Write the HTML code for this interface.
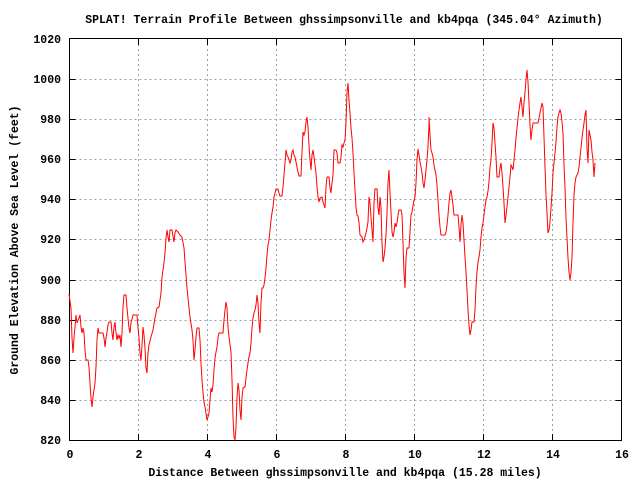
<!DOCTYPE html>
<html><head><meta charset="utf-8"><style>
html,body{margin:0;padding:0;background:#fff}
svg{display:block}
text{font-family:"Liberation Mono",monospace;font-weight:bold;font-size:11.5px;fill:#000}
</style></head><body>
<svg width="640" height="480" xmlns="http://www.w3.org/2000/svg">
<g stroke="#a0a0a0" stroke-width="1" stroke-dasharray="2,3" fill="none">
<path d="M69.5 79.5H621M69.5 119.5H621M69.5 159.5H621M69.5 199.5H621M69.5 239.5H621M69.5 280.5H621M69.5 320.5H621M69.5 360.5H621M69.5 400.5H621"/>
<path d="M138.5 39V440M207.5 39V440M276.5 39V440M345.5 39V440M414.5 39V440M483.5 39V440M552.5 39V440"/>
</g>
<g stroke="#000" stroke-width="1" fill="none">
<rect x="69.5" y="38.5" width="552" height="402"/>
<path d="M69.5 79.5h6M69.5 119.5h6M69.5 159.5h6M69.5 199.5h6M69.5 239.5h6M69.5 280.5h6M69.5 320.5h6M69.5 360.5h6M69.5 400.5h6"/>
<path d="M621.5 79.5h-6M621.5 119.5h-6M621.5 159.5h-6M621.5 199.5h-6M621.5 239.5h-6M621.5 280.5h-6M621.5 320.5h-6M621.5 360.5h-6M621.5 400.5h-6"/>
<path d="M138.5 440v-6M207.5 440v-6M276.5 440v-6M345.5 440v-6M414.5 440v-6M483.5 440v-6M552.5 440v-6"/>
<path d="M138.5 39v6M207.5 39v6M276.5 39v6M345.5 39v6M414.5 39v6M483.5 39v6M552.5 39v6"/>
</g>
<polyline fill="none" stroke="#ff0000" stroke-width="1" points="69,294 71,308 72,338 73,353 74,338 76,315 77,323 79,318 80,315 81,327 82,333 83,328 84,333 85,350 86,360 88,360 89,367 90,383 91,398 92,407 93,397 94,390 95,383 96,367 97,340 98,328 99,333 101,333 103,333 104,338 105,347 106,338 107,332 108,325 109,322 111,322 112,333 113,340 114,327 115,322 116,333 117,340 118,335 119,338 120,335 121,347 122,333 123,307 124,295 126,295 127,308 128,318 129,328 130,333 131,323 133,315 137,315 138,327 139,338 140,353 141,360 142,345 143,327 144,335 145,348 146,368 147,373 148,353 149,345 151,337 153,330 155,318 157,308 159,307 161,293 162,277 164,263 165,253 166,238 167,230 168,237 169,242 170,230 172,230 174,242 175,233 176,230 178,232 180,235 182,237 184,248 185,262 186,275 187,288 188,298 189,308 190,317 192,330 193,340 194,360 195,350 196,337 197,328 199,328 200,340 201,363 202,380 203,393 204,402 205,407 206,413 207,420 208,417 209,413 210,400 211,388 212,392 213,385 214,370 215,358 216,352 217,347 218,338 219,333 223,333 224,320 225,310 226,302 227,308 228,327 229,337 231,352 232,380 233,417 234,437 235,440 236,427 237,398 238,383 239,390 240,410 241,420 242,397 243,388 245,387 246,378 247,370 248,363 249,357 250,353 251,343 252,328 253,318 254,313 255,310 256,305 257,295 258,303 259,323 260,333 261,303 262,288 263,288 264,285 265,278 266,268 267,255 268,245 269,240 270,230 271,220 272,213 273,207 274,197 275,193 276,189 278,189 279,193 280,196 282,196 283,187 284,175 285,163 286,150 287,155 288,157 289,160 290,163 291,160 292,152 293,150 294,155 295,157 296,162 297,167 298,172 299,176 301,176 302,152 303,132 304,135 305,132 306,122 307,117 308,127 309,145 310,160 311,170 312,155 313,150 314,157 315,165 316,173 317,187 318,197 319,202 320,198 322,197 323,202 324,205 325,208 326,187 327,177 329,177 330,188 331,193 332,183 333,175 334,150 336,150 337,153 338,163 340,163 341,157 342,145 343,147 344,143 345,140 346,122 347,93 348,83 349,100 350,113 351,128 352,138 353,153 354,173 355,190 356,207 357,215 358,216 359,222 360,235 362,237 363,242 364,240 366,233 367,228 368,222 369,197 370,203 371,217 372,230 373,242 374,203 375,189 377,189 378,208 379,215 380,197 381,207 382,243 383,262 384,257 385,248 386,235 387,213 388,183 389,170 390,193 391,212 392,232 393,237 394,232 395,223 396,227 397,223 398,215 399,210 401,210 402,215 403,243 404,273 405,288 406,258 407,248 409,248 410,232 411,215 412,212 413,206 414,200 415,197 416,183 417,160 418,149 419,155 420,162 421,167 422,173 423,183 424,188 425,180 426,170 427,160 428,147 429,125 429,117 430,135 431,150 432,153 433,157 434,165 435,170 436,175 437,185 438,200 439,215 440,227 441,235 445,235 446,232 447,225 448,215 449,203 450,193 451,190 452,197 453,205 454,215 458,215 459,227 460,242 461,225 462,215 463,223 464,240 465,257 466,272 467,290 468,310 469,325 470,335 471,330 472,322 474,322 475,310 476,287 477,272 478,262 479,257 480,250 481,237 482,228 483,223 484,215 485,207 486,200 487,197 488,191 489,182 490,167 491,160 492,143 493,123 494,128 495,143 496,157 497,177 499,177 500,168 501,163 502,173 503,187 504,203 505,223 506,215 507,207 508,197 509,187 510,177 511,165 512,167 513,170 514,160 515,150 516,138 517,128 518,118 519,110 520,103 521,97 522,107 523,117 524,103 525,92 526,80 527,70 528,82 529,103 530,125 531,140 532,130 533,123 538,123 539,118 540,113 541,108 542,103 543,107 544,137 545,167 546,195 547,213 548,233 549,230 550,222 551,208 552,193 553,173 554,163 555,153 556,142 557,127 558,117 559,113 560,110 561,113 562,122 563,133 564,165 565,188 566,218 567,238 568,258 569,272 570,280 571,273 572,257 573,223 574,195 575,183 576,177 578,173 579,167 580,157 581,148 582,138 583,130 584,123 585,115 586,110 587,148 588,163 589,130 590,135 591,140 592,152 593,160 594,177 595,163"/>
<text x="344" y="23" text-anchor="middle">SPLAT! Terrain Profile Between ghssimpsonville and kb4pqa (345.04° Azimuth)</text>
<g text-anchor="end">
<text x="61" y="43">1020</text><text x="61" y="83">1000</text><text x="61" y="123">980</text><text x="61" y="163">960</text><text x="61" y="203">940</text><text x="61" y="243">920</text><text x="61" y="284">900</text><text x="61" y="324">880</text><text x="61" y="364">860</text><text x="61" y="404">840</text><text x="61" y="444">820</text>
</g>
<g text-anchor="middle">
<text x="70" y="458">0</text><text x="139" y="458">2</text><text x="208" y="458">4</text><text x="277" y="458">6</text><text x="346" y="458">8</text><text x="415" y="458">10</text><text x="484" y="458">12</text><text x="553" y="458">14</text><text x="622" y="458">16</text>
<text x="345" y="476">Distance Between ghssimpsonville and kb4pqa (15.28 miles)</text>
<text transform="translate(18,240) rotate(-90)">Ground Elevation Above Sea Level (feet)</text>
</g>
</svg>
</body></html>
